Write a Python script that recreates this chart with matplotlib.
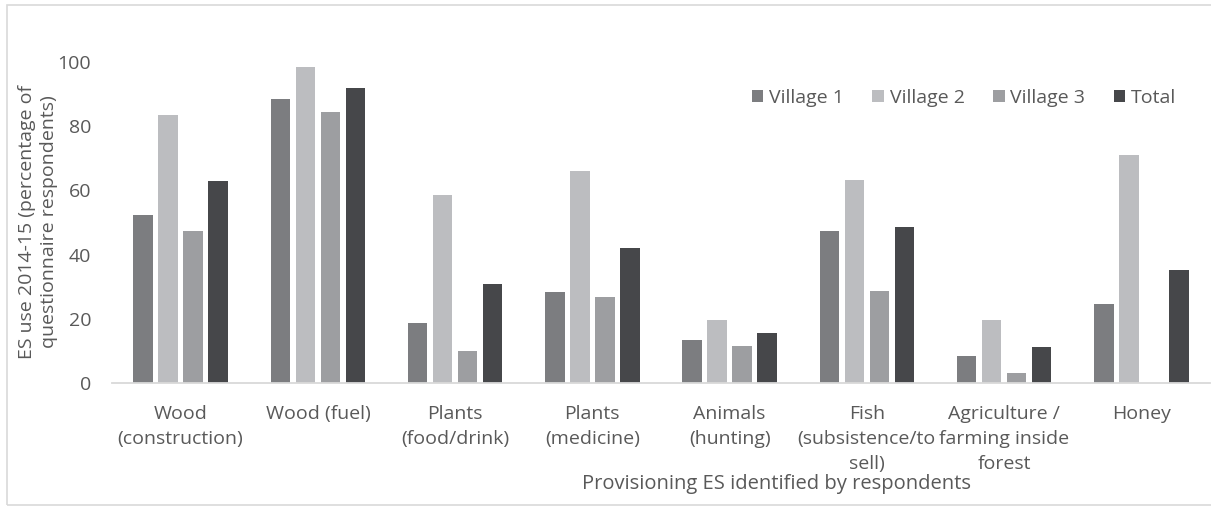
import matplotlib.pyplot as plt
import matplotlib.patches as patches
import numpy as np

categories = ["Wood\n(construction)", "Wood (fuel)", "Plants\n(food/drink)",
              "Plants\n(medicine)", "Animals\n(hunting)",
              "Fish\n(subsistence/to\nsell)",
              "Agriculture /\nfarming inside\nforest", "Honey"]
village1 = [52.2, 88.5, 18.6, 28.4, 13.4, 47.4, 8.4, 24.7]
village2 = [83.5, 98.5, 58.6, 66.0, 19.6, 63.4, 19.6, 71.0]
village3 = [47.3, 84.5, 9.9, 26.8, 11.5, 28.6, 3.1, 0.0]
total = [62.8, 92.0, 31.0, 42.2, 15.5, 48.6, 11.2, 35.2]
series_names = ["Village 1", "Village 2", "Village 3", "Total"]
yticks = [0, 20, 40, 60, 80, 100]

colors = ["#7c7d80", "#bcbdc0", "#9d9ea1", "#46474a"]
textcol = "#595959"
plt.rcParams['font.family'] = ['Open Sans', 'DejaVu Sans']

W, H = 1211, 507
fig = plt.figure(figsize=(W / 100, H / 100), dpi=100)
ax = fig.add_axes([112 / W, 1 - 383 / H, (1210 - 112) / W, (383 - 30) / H])

# outer chart frame
fig.patches.append(patches.Rectangle((7 / W, 1 - 505 / H), 1.0, (505 - 5) / H,
                                     transform=fig.transFigure, fill=False,
                                     edgecolor="#d9d9d9", linewidth=1.2))

x = np.arange(len(categories))
bw = 0.142
pitch = 0.182
bars = []
for i, (vals, c) in enumerate(zip([village1, village2, village3, total], colors)):
    b = ax.bar(x + (i - 1.5) * pitch, vals, width=bw, color=c, label=series_names[i])
    bars.append(b)

ax.set_xlim(-0.5, len(categories) - 0.5)
ax.set_ylim(0, 110)
ax.set_yticks(yticks)
ax.set_xticks(x)
ax.set_xticklabels(categories, fontsize=14, color=textcol, linespacing=1.5)
ax.tick_params(axis='y', length=0, labelsize=14, labelcolor=textcol, pad=15)
ax.tick_params(axis='x', length=0, pad=16)
for s in ["top", "right", "left"]:
    ax.spines[s].set_visible(False)
ax.spines["bottom"].set_color("#d9d9d9")
ax.spines["bottom"].set_linewidth(1.3)

fig.text(38 / W, 1 - 222 / H, "ES use 2014-15 (percentage of\nquestionnaire respondents)",
         rotation=90, ha="center", va="center", fontsize=14, color=textcol,
         linespacing=1.25)
fig.text(777 / W, 1 - 484 / H, "Provisioning ES identified by respondents",
         ha="center", va="center", fontsize=14.5, color=textcol)

ax.legend(handles=bars, loc="center", bbox_to_anchor=(964 / W, 1 - 98 / H),
          bbox_transform=fig.transFigure, ncol=4, frameon=False, fontsize=14,
          labelcolor=textcol, handlelength=0.6, handleheight=0.6,
          handletextpad=0.3, columnspacing=1.45)

fig.savefig("out.png", dpi=100)
